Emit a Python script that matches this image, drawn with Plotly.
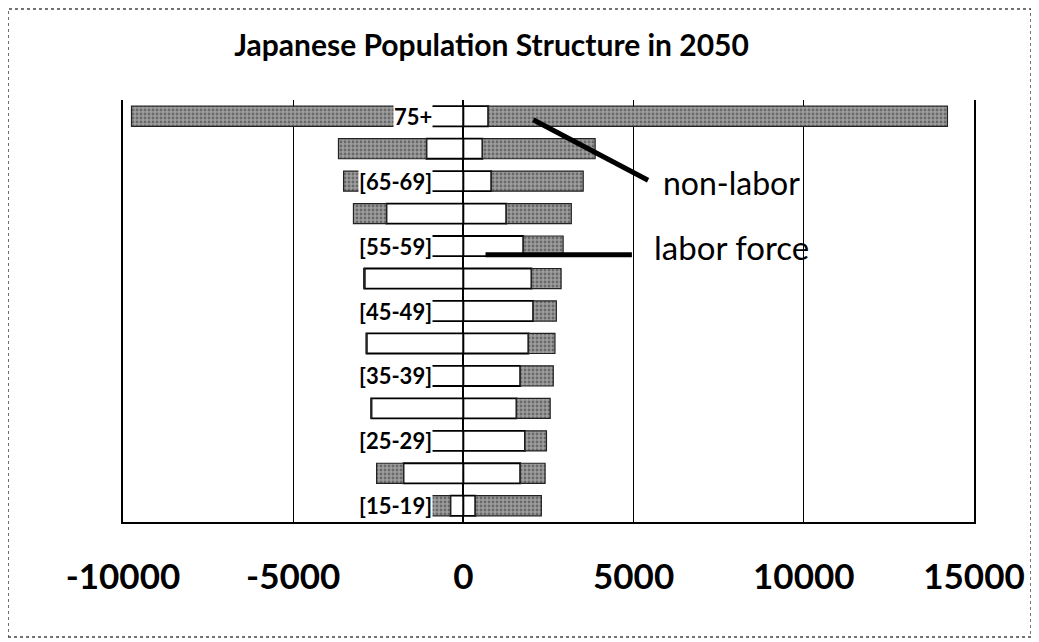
import plotly.graph_objects as go

# Age groups, top to bottom
age_groups = ["75+", "[70-74]", "[65-69]", "[60-64]", "[55-59]", "[50-54]", "[45-49]",
              "[40-44]", "[35-39]", "[30-34]", "[25-29]", "[20-24]", "[15-19]"]
shown_labels = ["75+", "[65-69]", "[55-59]", "[45-49]", "[35-39]", "[25-29]", "[15-19]"]

# thousands of people (left side = male, plotted as negative)
male_labor = [1600, 1085, 1800, 2260, 2800, 2900, 2950, 2840, 2780, 2700, 2590, 1760, 380]
male_nonlabor = [8150, 2585, 1720, 970, 200, 30, 50, 20, 20, 20, 30, 790, 2070]
female_labor = [730, 560, 820, 1260, 1760, 2000, 2050, 1910, 1670, 1560, 1810, 1670, 350]
female_nonlabor = [13490, 3310, 2700, 1910, 1170, 870, 680, 780, 970, 990, 630, 730, 1940]

x_ticks = [-10000, -5000, 0, 5000, 10000, 15000]

FONT = "Lato"
white_style = dict(color="white", line=dict(color="black", width=1.8))
gray_style = dict(color="#9e9e9e", line=dict(color="#222222", width=1.2),
                  pattern=dict(shape=".", fgcolor="#333333", size=4, solidity=0.4))

fig = go.Figure()
fig.add_trace(go.Bar(y=age_groups, x=[-v for v in male_labor], orientation="h",
                     marker=white_style, width=0.62, name="male labor"))
fig.add_trace(go.Bar(y=age_groups, x=[-v for v in male_nonlabor], orientation="h",
                     marker=gray_style, width=0.62, name="male non-labor"))
fig.add_trace(go.Bar(y=age_groups, x=female_labor, orientation="h",
                     marker=white_style, width=0.62, name="female labor"))
fig.add_trace(go.Bar(y=age_groups, x=female_nonlabor, orientation="h",
                     marker=gray_style, width=0.62, name="female non-labor"))

for lab in shown_labels:
    fig.add_annotation(x=-880, y=lab, xref="x", yref="y", text=lab, showarrow=False,
                       xanchor="right", yanchor="middle", bgcolor="white", borderpad=0,
                       font=dict(family=FONT, size=22, color="black", weight="bold"))

# callout texts
fig.add_annotation(x=0.632, y=0.805, xref="paper", yref="paper", text="non-labor",
                   showarrow=False, xanchor="left", yanchor="middle",
                   font=dict(family=FONT, size=32, color="black"))
fig.add_annotation(x=0.622, y=0.652, xref="paper", yref="paper", text="labor force",
                   showarrow=False, xanchor="left", yanchor="middle",
                   font=dict(family=FONT, size=33, color="black"))

shapes = [
    dict(type="line", xref="paper", yref="paper", x0=0.482, y0=0.953, x1=0.617, y1=0.810,
         line=dict(color="black", width=5)),
    dict(type="line", xref="paper", yref="paper", x0=0.426, y0=0.633, x1=0.598, y1=0.633,
         line=dict(color="black", width=5)),
    dict(type="rect", xref="paper", yref="paper", x0=-0.1351, x1=1.067, y0=-0.2725, y1=1.2156,
         line=dict(color="#444444", width=1.5, dash="dot")),
]

fig.update_layout(
    width=1039, height=642,
    margin=dict(l=115, r=73, t=92, b=128),
    paper_bgcolor="white", plot_bgcolor="white",
    barmode="relative", bargap=0.38, showlegend=False,
    shapes=shapes,
    title=dict(text="<b>Japanese Population Structure in 2050</b>", x=0.4654, xanchor="center",
               y=0.942, yanchor="middle", font=dict(family=FONT, size=30, color="black")),
    xaxis=dict(range=[-10000, 15000], tickvals=x_ticks, ticktext=[str(v) for v in x_ticks],
               showgrid=True, gridcolor="black", gridwidth=1, zeroline=True, zerolinecolor="black",
               zerolinewidth=1.5, showline=True, linecolor="black", linewidth=1.5, mirror=False,
               ticks="", ticklabelstandoff=23,
               tickfont=dict(family=FONT, size=35, color="black", weight="bold")),
    yaxis=dict(categoryorder="array", categoryarray=age_groups[::-1], showticklabels=False,
               showgrid=False, showline=True, linecolor="black", linewidth=1.5, mirror=True,
               ticks="", range=[-0.5, 12.5]),
)

fig.write_html("out.html")
